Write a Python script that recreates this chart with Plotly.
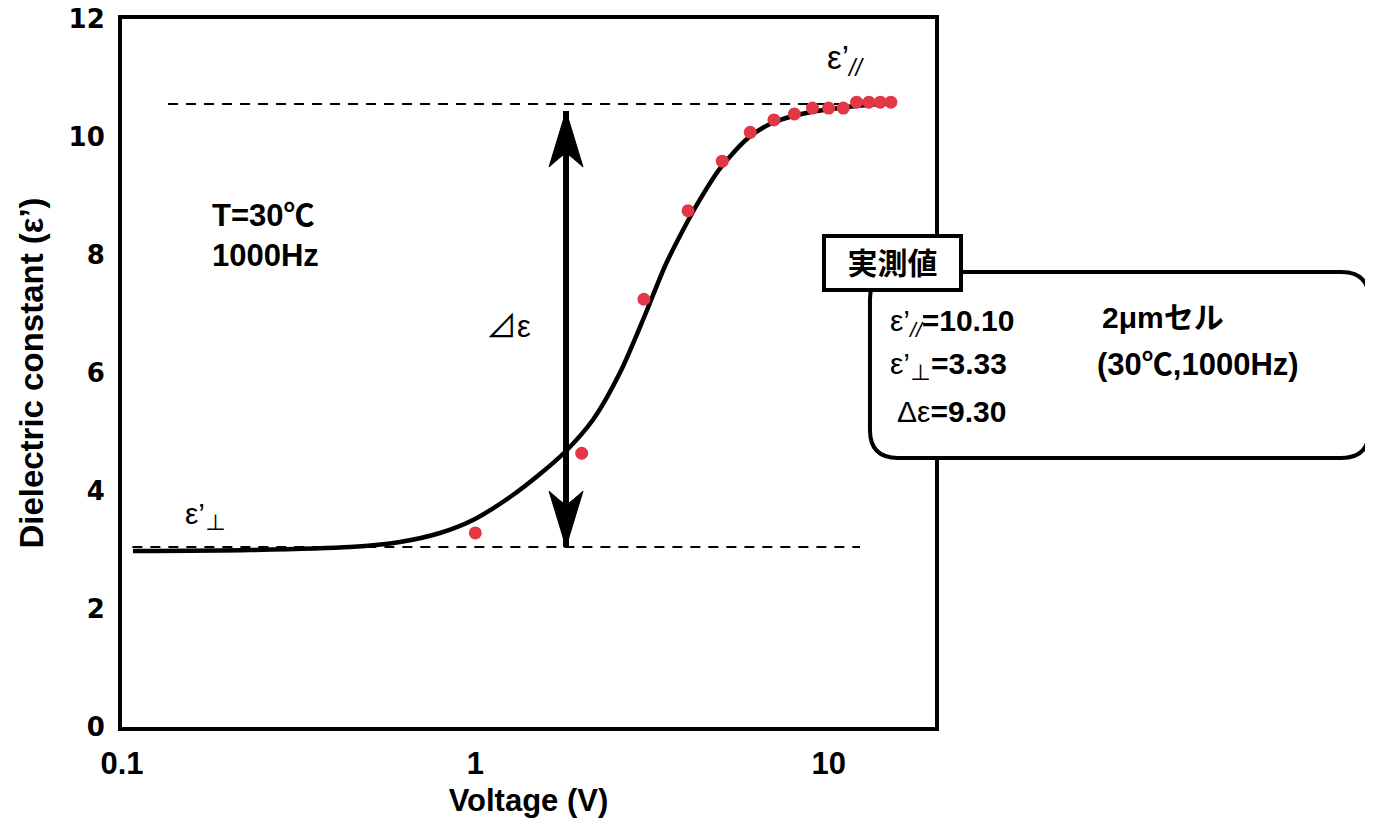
import math
import plotly.graph_objects as go

# ---------------- data ----------------
voltage = [1, 2, 3, 4, 5, 6, 7, 8, 9, 10, 11, 12, 13, 14, 15]
eps_meas = [3.29, 4.64, 7.25, 8.75, 9.59, 10.08, 10.29, 10.39, 10.49, 10.49,
            10.49, 10.59, 10.59, 10.59, 10.59]

fit_v = [0.1074, 0.2303, 0.4418, 0.6121, 0.7945, 0.985, 1.254, 1.524, 1.794,
         2.153, 2.568, 3.022, 3.443, 3.872, 4.325, 4.928, 5.914, 6.917, 7.929,
         8.917, 10.77, 12.27, 15.41]
fit_eps = [2.983, 3.000, 3.051, 3.136, 3.288, 3.508, 3.898, 4.288, 4.661,
           5.207, 6.007, 6.983, 7.814, 8.424, 8.942, 9.468, 9.983, 10.237,
           10.356, 10.424, 10.492, 10.532, 10.576]

par_line_v = [0.135, 15.4]
par_line_eps = [10.56, 10.56]
perp_line_v = [0.107, 12.27]
perp_line_eps = [3.05, 3.05]

arrow_v = 1.806
arrow_top = 10.44
arrow_bottom = 3.05

x_tick_vals = [0.1, 1, 10]
x_tick_text = ["0.1", "1", "10"]
y_tick_vals = [0, 2, 4, 6, 8, 10, 12]

# ---------------- style ----------------
BOLD_SANS = "Liberation Sans, Arial, sans-serif"
WIDE = "DejaVu Sans, Arial Black, sans-serif"
SANS = "Liberation Sans, Arial, Noto Sans CJK JP, sans-serif"
RED = "#E23744"

fig = go.Figure()

fig.add_trace(go.Scatter(x=par_line_v, y=par_line_eps, mode="lines",
                         line=dict(color="black", width=2, dash="10px,8px"),
                         hoverinfo="skip", showlegend=False))
fig.add_trace(go.Scatter(x=perp_line_v, y=perp_line_eps, mode="lines",
                         line=dict(color="black", width=2, dash="10px,8px"),
                         hoverinfo="skip", showlegend=False))
fig.add_trace(go.Scatter(x=fit_v, y=fit_eps, mode="lines",
                         line=dict(color="black", width=4.5, shape="spline", smoothing=0.8),
                         showlegend=False))
fig.add_trace(go.Scatter(x=voltage, y=eps_meas, mode="markers",
                         marker=dict(color=RED, size=13, line=dict(width=0)),
                         showlegend=False))

# double-headed arrow (shaft + heads anchored at data points, head drawn in pixels)
fig.add_shape(type="line", x0=arrow_v, x1=arrow_v, y0=arrow_bottom, y1=arrow_top,
              xref="x", yref="y", line=dict(color="black", width=6), layer="above")
fig.add_shape(type="path", xref="x", yref="y", xsizemode="pixel", ysizemode="pixel",
              xanchor=arrow_v, yanchor=arrow_top,
              path="M0,0 L17,-56 Q6,-46 0,-42 Q-6,-46 -17,-56 Z",
              fillcolor="black", line=dict(color="black", width=1), layer="above")
fig.add_shape(type="path", xref="x", yref="y", xsizemode="pixel", ysizemode="pixel",
              xanchor=arrow_v, yanchor=arrow_bottom,
              path="M0,0 L17,56 Q6,46 0,42 Q-6,46 -17,56 Z",
              fillcolor="black", line=dict(color="black", width=1), layer="above")

# rounded result box (paper coords)
bx0, bx1, by0, by1 = 0.9200, 1.5340, 0.3799, 0.6427
rx, ry = 0.0344, 0.0395
box_path = (f"M{bx0+rx},{by1} L{bx1-rx},{by1} Q{bx1},{by1} {bx1},{by1-ry} "
            f"L{bx1},{by0+ry} Q{bx1},{by0} {bx1-rx},{by0} "
            f"L{bx0+rx},{by0} Q{bx0},{by0} {bx0},{by0+ry} "
            f"L{bx0},{by1-ry} Q{bx0},{by1} {bx0+rx},{by1} Z")
fig.add_shape(type="path", xref="paper", yref="paper", path=box_path,
              fillcolor="white", line=dict(color="black", width=4), layer="above")

ann = []
def txt(x, y, text, size, xanchor="center", align="center", family=SANS, **kw):
    ann.append(dict(x=x, y=y, xref="paper", yref="paper", text=text, showarrow=False,
                    xanchor=xanchor, yanchor="middle", align=align,
                    font=dict(family=family, size=size, color="black"), **kw))

txt(0.8893, 0.9420, "ε’<sub><i>//</i></sub>", 33)
txt(0.1021, 0.2994, "ε’<sub>⊥</sub>", 30)
txt(0.4748, 0.5650, "⊿ε", 31)
txt(0.1082, 0.6949, "<b>T=30℃<br>1000Hz</b>", 31, xanchor="left", align="left")
txt(0.9477, 0.6547, "<b>実測値</b>", 30, bordercolor="black", borderwidth=4,
    bgcolor="white", width=133, height=50, borderpad=0)
txt(0.9422, 0.5720, "ε’<sub><i>//</i></sub><b>=10.10</b>", 30, xanchor="left", align="left")
txt(0.9422, 0.5099, "ε’<sub>⊥</sub><b>=3.33</b>", 30, xanchor="left", align="left")
txt(0.9508, 0.4463, "Δε<b>=9.30</b>", 30, xanchor="left", align="left")
txt(1.2030, 0.5777, "<b>2μmセル</b>", 30, xanchor="left", align="left")
txt(1.1968, 0.5113, "<b>(30℃,1000Hz)</b>", 31, xanchor="left", align="left")

# page body has an 8px margin: figure is shifted, so margins compensate
fig.update_layout(
    width=1365, height=817,
    margin=dict(l=114, r=438, t=11, b=98, autoexpand=False),
    paper_bgcolor="white", plot_bgcolor="white",
    annotations=ann,
    xaxis=dict(type="log", range=[-1, math.log10(20)], showgrid=False, zeroline=False,
               showline=True, linecolor="black", linewidth=4, mirror=True,
               ticks="", tickvals=x_tick_vals, ticktext=x_tick_text,
               ticklabelstandoff=6, ticklabeloverflow="allow",
               tickfont=dict(family=BOLD_SANS, size=31, color="black", weight="bold"),
               title=dict(text="Voltage (V)", standoff=10,
                          font=dict(family=BOLD_SANS, size=31, color="black", weight="bold"))),
    yaxis=dict(range=[0, 12], showgrid=False, zeroline=False,
               showline=True, linecolor="black", linewidth=4, mirror=True,
               ticks="", tickvals=y_tick_vals, ticklabelstandoff=8,
               ticklabeloverflow="allow",
               tickfont=dict(family=WIDE, size=26, color="black", weight="bold"),
               title=dict(text="Dielectric constant (ε’)", standoff=16,
                          font=dict(family=BOLD_SANS, size=33, color="black", weight="bold"))),
)

fig.write_html("out.html")
